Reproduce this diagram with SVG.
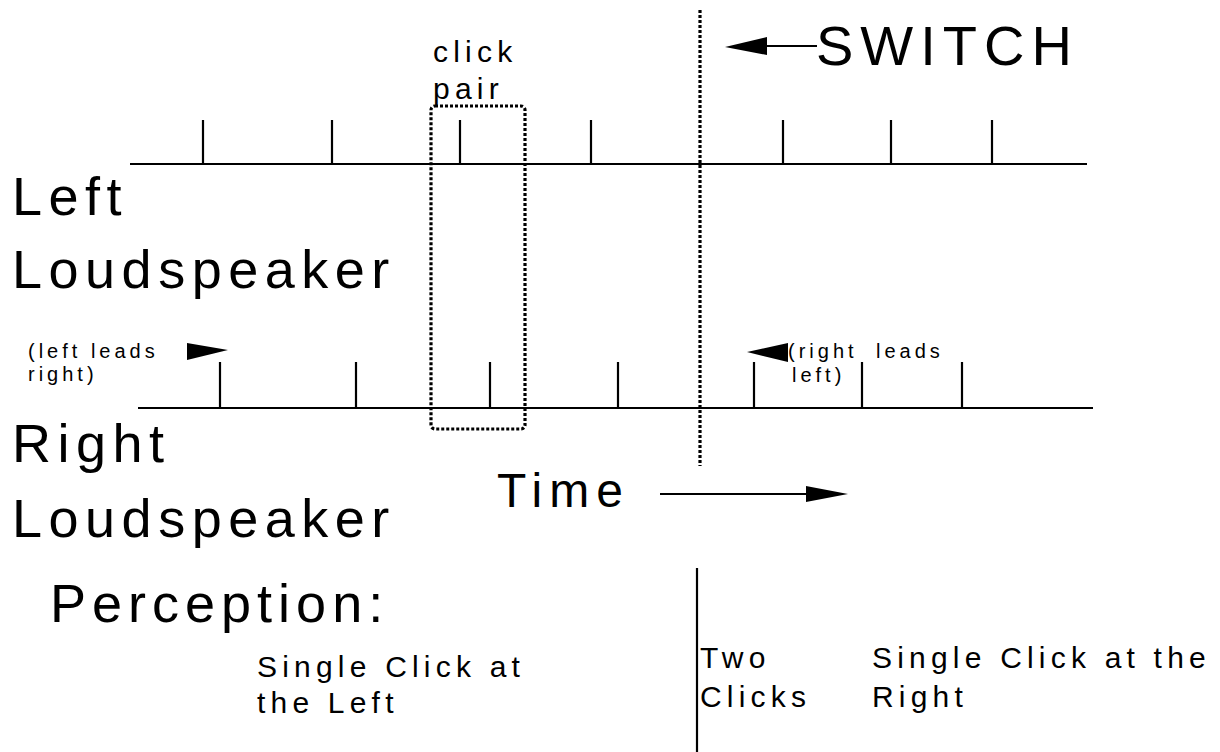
<svg xmlns="http://www.w3.org/2000/svg" width="1220" height="752" viewBox="0 0 1220 752">
<style>
.t{font-family:"Liberation Sans",Arial,sans-serif;fill:#000}
.big{font-size:54px;letter-spacing:6.5px}
.mid{font-size:30px;letter-spacing:5.2px}
.sm{font-size:20px;letter-spacing:4px}
.ln{stroke:#000;stroke-width:2.2;fill:none}
.dot{stroke:#000;stroke-width:3.2;fill:none;stroke-dasharray:3 2}
</style>
<rect width="1220" height="752" fill="#fff"/>
<g id="connectors">
<line class="ln" x1="130" y1="164" x2="1087" y2="164"/>
<path class="ln" d="M203 120V164M332 120V164M460 120V164M591 120V164M783 120V164M891 120V164M992 120V164"/>
<line class="ln" x1="138" y1="408" x2="1093" y2="408"/>
<path class="ln" d="M220 362V408M356 362V408M490 362V408M618 362V408M754 362V408M862 362V408M962 362V408"/>
<line class="dot" x1="700" y1="10" x2="700" y2="466"/>
<line class="ln" x1="697" y1="568" x2="697" y2="752" stroke-width="1.5"/>
<line class="ln" x1="765" y1="46" x2="817" y2="46"/>
<polygon points="725,47 767,37 767,55" fill="#000"/>
<line class="ln" x1="660" y1="494" x2="810" y2="494"/>
<polygon points="848,494 806,486 806,502" fill="#000"/>
<polygon points="187,343 228,350 187,360" fill="#000"/>
<polygon points="747,352 788,343 788,362" fill="#000"/>
</g>
<g id="click-pair">
<rect class="dot" x="431" y="106" width="94" height="323" rx="4"/>
<text class="t mid" x="433" y="62" letter-spacing="5">click</text>
<text class="t mid" x="433" y="99" letter-spacing="5">pair</text>
</g>
<g id="switch">
<text class="t" x="816" y="65" font-size="56" letter-spacing="7">SWITCH</text>
</g>
<g id="left-speaker">
<text class="t big" x="12" y="215">Left</text>
<text class="t big" x="12" y="288">Loudspeaker</text>
</g>
<g id="right-speaker">
<text class="t big" x="12" y="462">Right</text>
<text class="t big" x="12" y="537">Loudspeaker</text>
</g>
<g id="left-leads">
<text class="t sm" x="28" y="358">(left leads</text>
<text class="t sm" x="28" y="381">right)</text>
</g>
<g id="right-leads">
<text class="t sm" x="788" y="358">(right</text>
<text class="t sm" x="876" y="358">leads</text>
<text class="t sm" x="792" y="382">left)</text>
</g>
<g id="time">
<text class="t" x="497" y="507" font-size="48" letter-spacing="7">Time</text>
</g>
<g id="perception">
<text class="t" x="50" y="622" font-size="54" letter-spacing="6">Perception:</text>
</g>
<g id="perc-left">
<text class="t mid" x="257" y="677">Single Click at</text>
<text class="t mid" x="257" y="713">the Left</text>
</g>
<g id="perc-two">
<text class="t mid" x="700" y="668">Two</text>
<text class="t mid" x="700" y="707">Clicks</text>
</g>
<g id="perc-right">
<text class="t mid" x="872" y="668">Single Click at the</text>
<text class="t mid" x="872" y="707">Right</text>
</g>
</svg>
